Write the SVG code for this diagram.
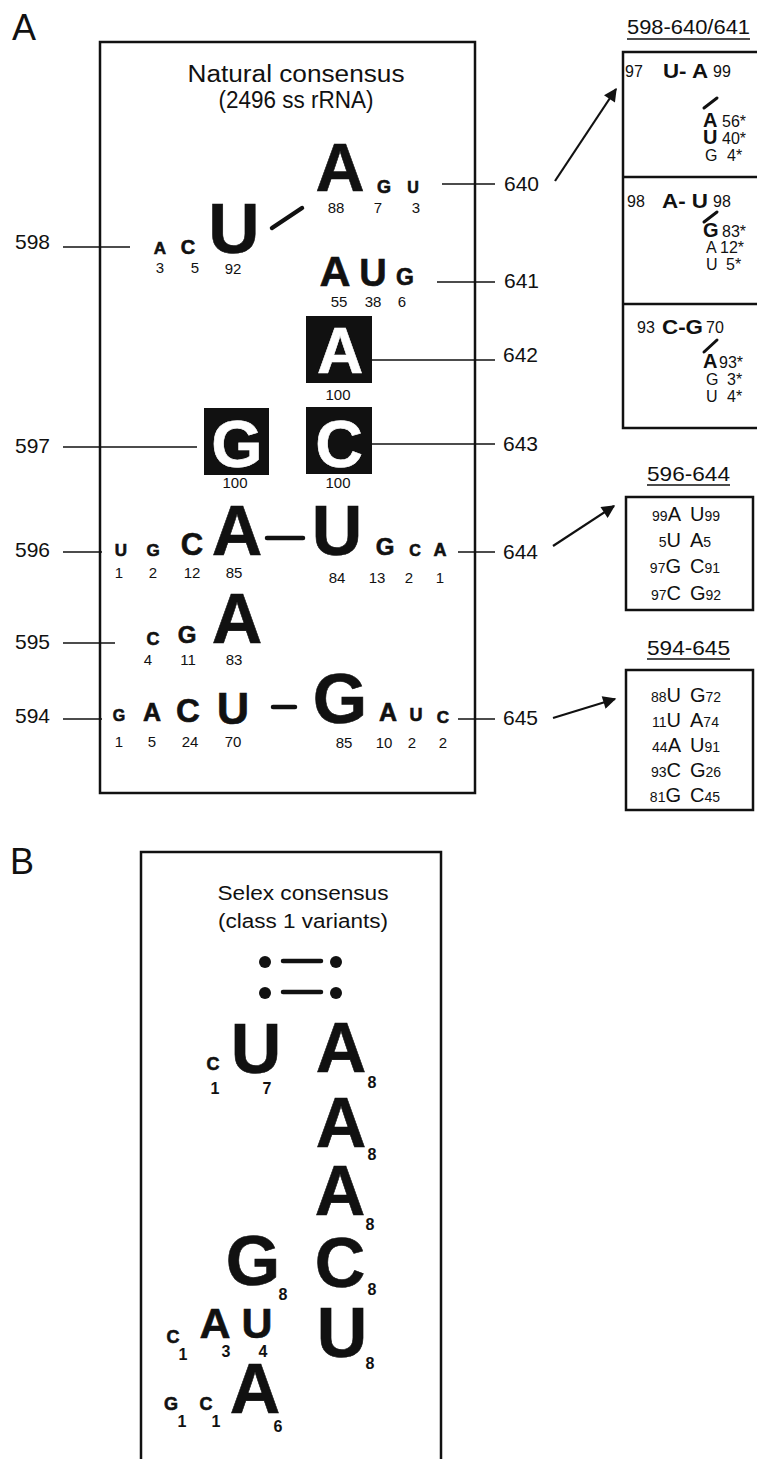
<svg xmlns="http://www.w3.org/2000/svg" width="757" height="1459" viewBox="0 0 757 1459">
<style>
text{font-family:"Liberation Sans",Arial,Helvetica,sans-serif;fill:#111}
.b{font-weight:bold;text-anchor:middle;stroke:#111;stroke-width:0.6}
.n{font-size:15px;text-anchor:middle}
.lab{font-size:21px}
.w{fill:#fff;stroke:#fff}
.r15{font-size:16px}
.bx{fill:none;stroke:#111;stroke-width:2.5}
.ln{stroke:#111;stroke-width:1.6;fill:none}
.bond{stroke:#111;stroke-width:4.5;stroke-linecap:round}
.sl{stroke:#111;stroke-width:3;stroke-linecap:round}
.arr{stroke:#111;stroke-width:2.2;fill:none;marker-end:url(#ah)}
.tb{font-size:20px}
.sm{font-size:14px}
.nb{font-size:16px;font-weight:bold;text-anchor:middle}
</style>
<defs>
<marker id="ah" viewBox="0 0 10 10" refX="9" refY="5" markerWidth="7" markerHeight="6" orient="auto" markerUnits="strokeWidth">
<path d="M0,0 L10,5 L0,10 z" fill="#111"/>
</marker>
</defs>
<rect width="757" height="1459" fill="#fff"/>

<g id="panelA">
<text x="12" y="40" font-size="36">A</text>
<rect class="bx" x="100" y="42" width="375" height="751"/>
<text x="296" y="82" font-size="23" text-anchor="middle" textLength="217" lengthAdjust="spacingAndGlyphs">Natural consensus</text>
<text x="296" y="108" font-size="23" text-anchor="middle" textLength="155" lengthAdjust="spacingAndGlyphs">(2496 ss rRNA)</text>
</g>

<g id="connectors">
<line class="ln" x1="63" y1="247" x2="130" y2="247"/>
<line class="ln" x1="63" y1="447" x2="197" y2="447"/>
<line class="ln" x1="63" y1="552" x2="102" y2="552"/>
<line class="ln" x1="63" y1="643" x2="115" y2="643"/>
<line class="ln" x1="63" y1="719" x2="102" y2="719"/>
<line class="ln" x1="442" y1="184" x2="495" y2="184"/>
<line class="ln" x1="437" y1="282" x2="495" y2="282"/>
<line class="ln" x1="372" y1="360" x2="495" y2="360"/>
<line class="ln" x1="372" y1="444" x2="495" y2="444"/>
<line class="ln" x1="458" y1="552" x2="495" y2="552"/>
<line class="ln" x1="458" y1="719" x2="495" y2="719"/>
<line class="bond" x1="272" y1="228" x2="302" y2="208"/>
<line class="bond" x1="267" y1="538" x2="303" y2="538"/>
<line class="bond" x1="273" y1="707" x2="295" y2="707"/>
<line class="arr" x1="555" y1="181" x2="616" y2="89"/>
<line class="arr" x1="553" y1="546" x2="614" y2="506"/>
<line class="arr" x1="553" y1="718" x2="615" y2="699"/>
</g>

<g id="pos-labels">
<text class="lab" x="15" y="249">598</text>
<text class="lab" x="15" y="453">597</text>
<text class="lab" x="15" y="557">596</text>
<text class="lab" x="15" y="649">595</text>
<text class="lab" x="15" y="723">594</text>
<text class="lab" x="504" y="191">640</text>
<text class="lab" x="504" y="288">641</text>
<text class="lab" x="503" y="362">642</text>
<text class="lab" x="503" y="451">643</text>
<text class="lab" x="503" y="559">644</text>
<text class="lab" x="503" y="725">645</text>
</g>

<g id="row598">
<text class="b" x="160" y="254" font-size="17">A</text>
<text class="b" x="188" y="254" font-size="20">C</text>
<text class="b" x="234" y="253" font-size="71">U</text>
<text class="n" x="160" y="273">3</text>
<text class="n" x="195" y="273">5</text>
<text class="n" x="233" y="274">92</text>
</g>

<g id="row640">
<text class="b" x="340" y="191" font-size="68">A</text>
<text class="b" x="384" y="193" font-size="18">G</text>
<text class="b" x="413" y="193" font-size="16">U</text>
<text class="n" x="336" y="213">88</text>
<text class="n" x="378" y="213">7</text>
<text class="n" x="416" y="213">3</text>
</g>

<g id="row641">
<text class="b" x="335" y="286" font-size="43">A</text>
<text class="b" x="373" y="286" font-size="38">U</text>
<text class="b" x="405" y="285" font-size="23">G</text>
<text class="n" x="339" y="307">55</text>
<text class="n" x="373" y="307">38</text>
<text class="n" x="402" y="307">6</text>
</g>

<g id="pos642">
<rect x="306" y="316" width="66" height="67" fill="#111"/>
<text class="b w" x="340" y="373" font-size="64">A</text>
<text class="n" x="338" y="400">100</text>
</g>

<g id="pos597">
<rect x="204" y="408" width="65" height="67" fill="#111"/>
<text class="b w" x="237" y="467" font-size="66">G</text>
<text class="n" x="235" y="488">100</text>
</g>

<g id="pos643">
<rect x="306" y="407" width="66" height="67" fill="#111"/>
<text class="b w" x="339" y="467" font-size="66">C</text>
<text class="n" x="338" y="488">100</text>
</g>

<g id="row596">
<text class="b" x="121" y="556" font-size="17">U</text>
<text class="b" x="153" y="556" font-size="17">G</text>
<text class="b" x="192" y="555" font-size="31">C</text>
<text class="b" x="237" y="555" font-size="70">A</text>
<text class="b" x="337" y="555" font-size="70">U</text>
<text class="b" x="385" y="555" font-size="24">G</text>
<text class="b" x="415" y="556" font-size="16">C</text>
<text class="b" x="440" y="556" font-size="18">A</text>
<text class="n" x="119" y="578">1</text>
<text class="n" x="153" y="578">2</text>
<text class="n" x="192" y="578">12</text>
<text class="n" x="234" y="578">85</text>
<text class="n" x="337" y="583">84</text>
<text class="n" x="377" y="583">13</text>
<text class="n" x="409" y="583">2</text>
<text class="n" x="440" y="583">1</text>
</g>

<g id="row595">
<text class="b" x="153" y="645" font-size="18">C</text>
<text class="b" x="187" y="643" font-size="24">G</text>
<text class="b" x="237" y="643" font-size="70">A</text>
<text class="n" x="148" y="665">4</text>
<text class="n" x="188" y="665">11</text>
<text class="n" x="234" y="665">83</text>
</g>

<g id="row594">
<text class="b" x="119" y="721" font-size="16">G</text>
<text class="b" x="152" y="721" font-size="25">A</text>
<text class="b" x="188" y="722" font-size="33">C</text>
<text class="b" x="233" y="724" font-size="45">U</text>
<text class="b" x="340" y="723" font-size="70">G</text>
<text class="b" x="388" y="721" font-size="25">A</text>
<text class="b" x="416" y="721" font-size="18">U</text>
<text class="b" x="443" y="723" font-size="17">C</text>
<text class="n" x="119" y="747">1</text>
<text class="n" x="152" y="747">5</text>
<text class="n" x="190" y="747">24</text>
<text class="n" x="233" y="747">70</text>
<text class="n" x="344" y="748">85</text>
<text class="n" x="384" y="748">10</text>
<text class="n" x="412" y="748">2</text>
<text class="n" x="443" y="748">2</text>
</g>

<g id="box598-640">
<text x="627" y="34" font-size="20" textLength="123" lengthAdjust="spacingAndGlyphs">598-640/641</text>
<line class="ln" x1="627" y1="39" x2="750" y2="39"/>
<rect class="bx" x="623" y="52" width="150" height="376"/>
<line class="bx" x1="623" y1="177" x2="760" y2="177"/>
<line class="bx" x1="623" y1="304" x2="760" y2="304"/>
<text class="r15" x="625" y="77">97</text>
<text class="tb" x="663" y="78" font-weight="bold" font-size="22" textLength="45" lengthAdjust="spacingAndGlyphs">U- A</text>
<text class="r15" x="713" y="77">99</text>
<line class="sl" x1="704" y1="108" x2="717" y2="98"/>
<text class="tb" x="703" y="127" font-weight="bold">A</text>
<text class="r15" x="722" y="127">56*</text>
<text class="tb" x="703" y="144" font-weight="bold">U</text>
<text class="r15" x="722" y="144">40*</text>
<text class="r15" x="705" y="161">G</text>
<text class="r15" x="727" y="161">4*</text>
<text class="r15" x="627" y="207">98</text>
<text class="tb" x="662" y="208" font-weight="bold" font-size="22" textLength="46" lengthAdjust="spacingAndGlyphs">A- U</text>
<text class="r15" x="713" y="207">98</text>
<line class="sl" x1="704" y1="222" x2="717" y2="212"/>
<text class="tb" x="703" y="237" font-weight="bold">G</text>
<text class="r15" x="722" y="237">83*</text>
<text class="r15" x="706" y="253">A</text>
<text class="r15" x="720" y="253">12*</text>
<text class="r15" x="706" y="270">U</text>
<text class="r15" x="726" y="270">5*</text>
<text class="r15" x="637" y="333">93</text>
<text class="tb" x="662" y="334" font-weight="bold" font-size="22" textLength="41" lengthAdjust="spacingAndGlyphs">C-G</text>
<text class="r15" x="706" y="333">70</text>
<line class="sl" x1="704" y1="352" x2="717" y2="340"/>
<text class="tb" x="703" y="368" font-weight="bold">A</text>
<text class="r15" x="719" y="368">93*</text>
<text class="r15" x="706" y="385">G</text>
<text class="r15" x="727" y="385">3*</text>
<text class="r15" x="706" y="402">U</text>
<text class="r15" x="727" y="402">4*</text>
</g>

<g id="box596-644">
<text x="647" y="481" font-size="21" textLength="83" lengthAdjust="spacingAndGlyphs">596-644</text>
<line class="ln" x1="647" y1="485" x2="730" y2="485"/>
<rect class="bx" x="626" y="497" width="127" height="113"/>
<text class="tb" x="681" y="521" text-anchor="end"><tspan class="sm">99</tspan>A</text>
<text class="tb" x="690" y="521">U<tspan class="sm">99</tspan></text>
<text class="tb" x="681" y="547" text-anchor="end"><tspan class="sm">5</tspan>U</text>
<text class="tb" x="690" y="547">A<tspan class="sm">5</tspan></text>
<text class="tb" x="681" y="573" text-anchor="end"><tspan class="sm">97</tspan>G</text>
<text class="tb" x="690" y="573">C<tspan class="sm">91</tspan></text>
<text class="tb" x="681" y="600" text-anchor="end"><tspan class="sm">97</tspan>C</text>
<text class="tb" x="690" y="600">G<tspan class="sm">92</tspan></text>
</g>

<g id="box594-645">
<text x="647" y="655" font-size="21" textLength="83" lengthAdjust="spacingAndGlyphs">594-645</text>
<line class="ln" x1="647" y1="659" x2="730" y2="659"/>
<rect class="bx" x="626" y="670" width="127" height="140"/>
<text class="tb" x="681" y="702" text-anchor="end"><tspan class="sm">88</tspan>U</text>
<text class="tb" x="690" y="702">G<tspan class="sm">72</tspan></text>
<text class="tb" x="681" y="727" text-anchor="end"><tspan class="sm">11</tspan>U</text>
<text class="tb" x="690" y="727">A<tspan class="sm">74</tspan></text>
<text class="tb" x="681" y="752" text-anchor="end"><tspan class="sm">44</tspan>A</text>
<text class="tb" x="690" y="752">U<tspan class="sm">91</tspan></text>
<text class="tb" x="681" y="777" text-anchor="end"><tspan class="sm">93</tspan>C</text>
<text class="tb" x="690" y="777">G<tspan class="sm">26</tspan></text>
<text class="tb" x="681" y="802" text-anchor="end"><tspan class="sm">81</tspan>G</text>
<text class="tb" x="690" y="802">C<tspan class="sm">45</tspan></text>
</g>

<g id="panelB">
<text x="10" y="874" font-size="36">B</text>
<rect class="bx" x="141" y="852" width="300" height="650"/>
<text x="303" y="900" font-size="20" text-anchor="middle" textLength="171" lengthAdjust="spacingAndGlyphs">Selex consensus</text>
<text x="303" y="928" font-size="20" text-anchor="middle" textLength="170" lengthAdjust="spacingAndGlyphs">(class 1 variants)</text>
</g>

<g id="pairing-symbol">
<circle cx="265" cy="962" r="6" fill="#111"/>
<circle cx="336" cy="962" r="6" fill="#111"/>
<circle cx="265" cy="993" r="6" fill="#111"/>
<circle cx="336" cy="993" r="6" fill="#111"/>
<line class="bond" x1="283" y1="961" x2="321" y2="961"/>
<line class="bond" x1="283" y1="992" x2="321" y2="992"/>
</g>

<g id="selex-left">
<text class="b" x="213" y="1070" font-size="18">C</text>
<text class="nb" x="215" y="1094">1</text>
<text class="b" x="256" y="1073" font-size="70">U</text>
<text class="nb" x="267" y="1094">7</text>
<text class="b" x="253" y="1285" font-size="70">G</text>
<text class="nb" x="283" y="1300">8</text>
<text class="b" x="173" y="1343" font-size="18">C</text>
<text class="nb" x="183" y="1360">1</text>
<text class="b" x="215" y="1338" font-size="43">A</text>
<text class="nb" x="226" y="1357">3</text>
<text class="b" x="257" y="1338" font-size="43">U</text>
<text class="nb" x="263" y="1357">4</text>
<text class="b" x="171" y="1410" font-size="18">G</text>
<text class="nb" x="182" y="1427">1</text>
<text class="b" x="206" y="1410" font-size="18">C</text>
<text class="nb" x="216" y="1427">1</text>
<text class="b" x="255" y="1413" font-size="70">A</text>
<text class="nb" x="278" y="1432">6</text>
</g>

<g id="selex-right">
<text class="b" x="341" y="1072" font-size="70">A</text>
<text class="nb" x="372" y="1088">8</text>
<text class="b" x="341" y="1147" font-size="70">A</text>
<text class="nb" x="372" y="1160">8</text>
<text class="b" x="340" y="1215" font-size="70">A</text>
<text class="nb" x="370" y="1230">8</text>
<text class="b" x="340" y="1287" font-size="70">C</text>
<text class="nb" x="372" y="1295">8</text>
<text class="b" x="342" y="1357" font-size="70">U</text>
<text class="nb" x="370" y="1369">8</text>
</g>
</svg>
